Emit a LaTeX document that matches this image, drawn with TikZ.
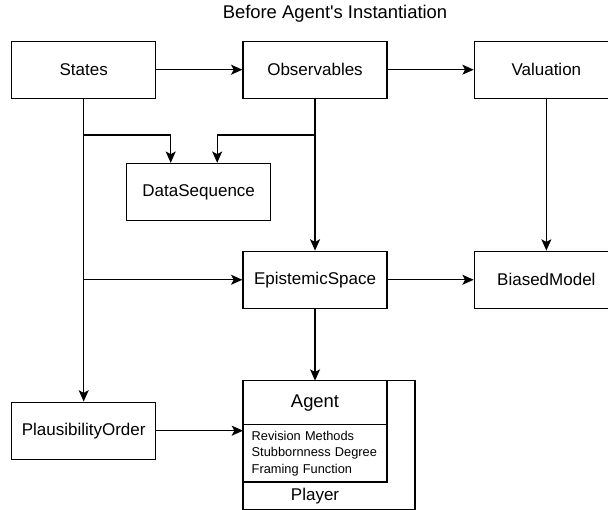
\documentclass[tikz,border=0pt]{standalone}
\usepackage{fontspec}
\setmainfont{Liberation Sans}
\usepackage{tikz}
\usetikzlibrary{arrows.meta,positioning,calc}
\tikzset{
  blk/.style={draw=black,line width=1pt,fill=white,align=center,font=\fontsize{12.75}{15}\selectfont,minimum width=108pt,minimum height=42.75pt,inner sep=2pt},
  hdr/.style={draw=black,line width=1pt,fill=white,outer sep=0pt,font=\fontsize{13.8}{16}\selectfont,minimum width=108pt,minimum height=33pt,inner sep=0pt},
  lst/.style={draw=black,line width=1pt,fill=white,outer sep=0pt,font=\fontsize{9.6}{12.4}\selectfont,align=left,text width=95pt,inner xsep=6.5pt,inner ysep=0pt,minimum width=108pt,minimum height=43pt},
  tag/.style={outer sep=0pt,inner sep=0pt,font=\fontsize{12.75}{15}\selectfont,minimum width=108pt,minimum height=21pt},
  wrap/.style={draw=black,line width=1pt,outer sep=0pt,minimum width=129pt,minimum height=96.75pt,inner sep=0pt},
  fl/.style={-{Stealth[length=8.5pt,width=7.5pt,inset=2pt]},draw=black,line width=1pt},
}
\begin{document}
\begin{tikzpicture}[x=0.75pt,y=-0.75pt]
\useasboundingbox (0,0) rectangle (608,510);
\clip (0,0) rectangle (608,510);
\node[font=\fontsize{13.8}{16}\selectfont,anchor=base] (title) at (335,18.3) {Before Agent\textquotesingle s Instantiation};
\node[blk] (states) at (83.7,69.7) {States};
\node[blk,right=64.5pt of states] (obs) {Observables};
\node[blk,right=64.5pt of obs] (val) {Valuation};
\node[blk] (data) at (198.7,192) {DataSequence};
\node[blk,below=113.8pt of obs] (epi) {EpistemicSpace};
\node[blk,below=113.8pt of val] (biased) {BiasedModel};
\node[blk,below=227pt of states] (plaus) {PlausibilityOrder};
\node[hdr,below=53.8pt of epi] (agent) {Agent};
\node[lst,below=0pt of agent] (traits) {Revision Methods\\Stubbornness Degree\\Framing Function};
\node[tag,below=0pt of traits] (plabel) {Player};
\node[wrap,anchor=north west] (player) at (agent.north west) {};
\draw[fl] (states) -- (obs); \draw[fl] (obs) -- (val);
\draw[fl] (states) -- (plaus);
\draw[fl] ($(states.south)+(0,36)$) -| ($(data.north)+(-28,0)$);
\draw[fl] ($(obs.south)+(0,36)$) -| ($(data.north)+(18.5,0)$);
\draw[fl] (obs) -- (epi);
\draw[fl] (states |- epi) -- (epi);
\draw[fl] (val) -- (biased); \draw[fl] (epi) -- (biased);
\draw[fl] (epi) -- (agent);
\draw[fl] (plaus) -- (plaus -| traits.west);
\end{tikzpicture}
\end{document}
